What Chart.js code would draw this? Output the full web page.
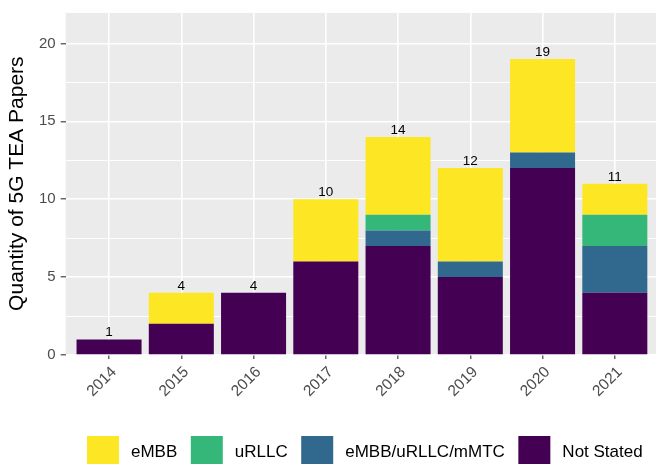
<!DOCTYPE html>
<html>
<head>
<meta charset="utf-8">
<script src="https://cdn.jsdelivr.net/npm/chart.js@4/dist/chart.umd.min.js"></script>
<style>
  html, body { margin: 0; padding: 0; background: #fff; overflow: hidden; }
</style>
</head>
<body>
<canvas id="chart" width="656" height="464"></canvas>
<script>
const years = ['2014', '2015', '2016', '2017', '2018', '2019', '2020', '2021'];
const notStated = [1, 2, 4, 6, 7, 5, 12, 4];
const mixed = [0, 0, 0, 0, 1, 1, 1, 3];
const urllc = [0, 0, 0, 0, 1, 0, 0, 2];
const embb = [0, 2, 0, 4, 5, 6, 6, 2];

const FONT = "'Liberation Sans', Arial, sans-serif";

function toPoints(values) {
    return values.map((v, i) => ({ x: i, y: v }));
}

// grey ggplot panel behind everything
const panelBg = {
    id: 'panelBg',
    beforeDraw(chart) {
        const { ctx, chartArea: a } = chart;
        ctx.save();
        ctx.fillStyle = '#EBEBEB';
        ctx.fillRect(a.left, a.top, a.right - a.left, a.bottom - a.top);
        ctx.restore();
    }
};

// total count above each stacked bar
const totals = {
    id: 'totals',
    afterDatasetsDraw(chart) {
        const { ctx, scales } = chart;
        ctx.save();
        ctx.font = '13.5px ' + FONT;
        ctx.fillStyle = '#000';
        ctx.textAlign = 'center';
        ctx.textBaseline = 'alphabetic';
        years.forEach((y, i) => {
            const total = notStated[i] + mixed[i] + urllc[i] + embb[i];
            ctx.fillText(String(total), scales.x.getPixelForValue(i), scales.y.getPixelForValue(total) - 3);
        });
        ctx.restore();
    }
};

// bottom legend, ggplot style
const keyLegend = {
    id: 'keyLegend',
    afterDraw(chart) {
        const { ctx } = chart;
        const items = chart.data.datasets.slice().reverse();
        ctx.save();
        ctx.font = '17px ' + FONT;
        ctx.textBaseline = 'middle';
        ctx.textAlign = 'left';
        let x = 87;
        const top = 436;
        items.forEach(ds => {
            ctx.fillStyle = ds.backgroundColor;
            ctx.fillRect(x, top, 32, 31);
            ctx.fillStyle = '#000';
            const tx = x + 44;
            ctx.fillText(ds.label, tx, top + 16);
            x = tx + ctx.measureText(ds.label).width + 13.5;
        });
        ctx.restore();
    }
};

new Chart(document.getElementById('chart'), {
    type: 'bar',
    data: {
        datasets: [
            { label: 'Not Stated', data: toPoints(notStated), backgroundColor: '#440154', xAxisID: 'x', yAxisID: 'y' },
            { label: 'eMBB/uRLLC/mMTC', data: toPoints(mixed), backgroundColor: '#31688E', xAxisID: 'x', yAxisID: 'y' },
            { label: 'uRLLC', data: toPoints(urllc), backgroundColor: '#35B779', xAxisID: 'x', yAxisID: 'y' },
            { label: 'eMBB', data: toPoints(embb), backgroundColor: '#FDE725', xAxisID: 'x', yAxisID: 'y' }
        ]
    },
    options: {
        responsive: false,
        animation: false,
        datasets: { bar: { barPercentage: 0.9, categoryPercentage: 1, borderWidth: 0 } },
        layout: { padding: { top: 12.3, left: 0, right: 0, bottom: 0 } },
        plugins: {
            legend: { display: false },
            tooltip: { enabled: false }
        },
        scales: {
            x: {
                type: 'linear',
                stacked: true,
                offset: false,
                min: -0.6,
                max: 7.57,
                border: { display: false },
                grid: { offset: false, color: '#FFFFFF', lineWidth: 1.6, tickLength: 4, tickColor: '#333333', tickWidth: 1.1 },
                ticks: {
                    stepSize: 1,
                    includeBounds: false,
                    autoSkip: false,
                    minRotation: 45,
                    maxRotation: 45,
                    padding: 4,
                    labelOffset: 5,
                    color: '#4D4D4D',
                    font: { family: FONT, size: 15.5 },
                    callback: v => years[v]
                },
                afterFit(s) { s.height = 109; s.paddingLeft = 0; s.paddingRight = 0; }
            },
            y: {
                type: 'linear',
                stacked: true,
                min: 0,
                max: 22,
                border: { display: false },
                grid: { color: '#FFFFFF', lineWidth: 1.6, tickLength: 5, tickColor: '#333333', tickWidth: 1.1 },
                ticks: {
                    stepSize: 5,
                    includeBounds: false,
                    padding: 5,
                    color: '#4D4D4D',
                    font: { family: FONT, size: 15 }
                },
                title: {
                    display: true,
                    text: 'Quantity of 5G TEA Papers',
                    color: '#000',
                    font: { family: FONT, size: 21 },
                    padding: { top: 5, bottom: 0 }
                },
                afterFit(s) { s.width = 65.7; s.paddingTop = 0; s.paddingBottom = 0; }
            },
            yMinor: {
                type: 'linear',
                position: 'left',
                min: 0,
                max: 22,
                border: { display: false },
                grid: {
                    drawTicks: false,
                    lineWidth: 0.9,
                    color: c => (c.tick && c.tick.value % 5 === 0) ? 'rgba(0,0,0,0)' : '#FFFFFF'
                },
                ticks: { display: false, stepSize: 2.5 },
                afterFit(s) { s.width = 0; s.paddingTop = 0; s.paddingBottom = 0; }
            }
        }
    },
    plugins: [panelBg, totals, keyLegend]
});
</script>
</body>
</html>
